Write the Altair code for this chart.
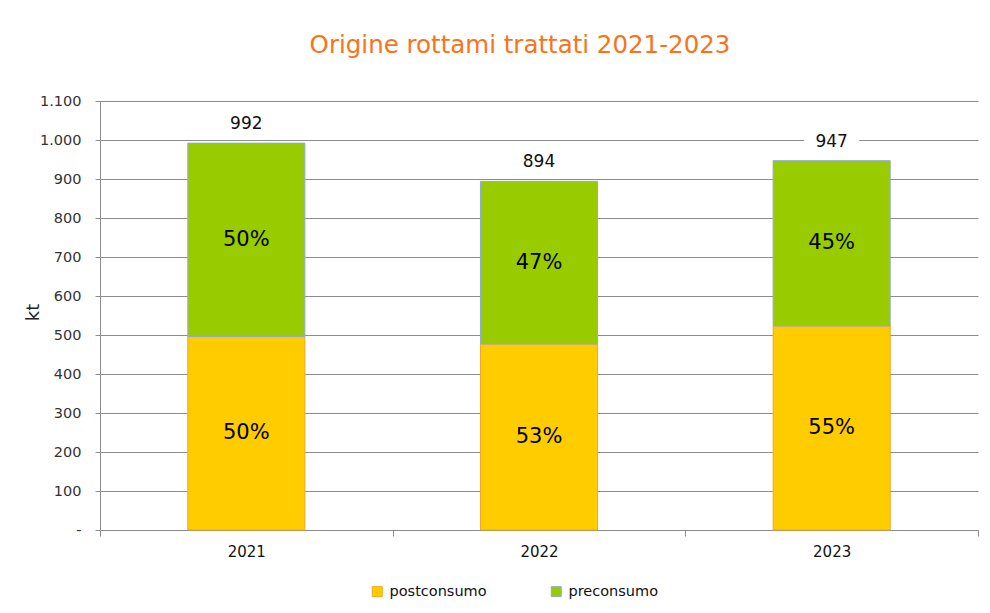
import altair as alt
import pandas as pd

years = ["2021", "2022", "2023"]
series = ["postconsumo", "preconsumo"]
postconsumo = [496, 477, 523]
preconsumo = [496, 417, 424]
totals = [992, 894, 947]
y_ticks = [0, 100, 200, 300, 400, 500, 600, 700, 800, 900, 1000, 1100]

fill_colors = ["#FFCC00", "#99CC00"]
stroke_colors = ["#F5A623", "#8FAAD6"]
grid_color = "#8C8C8C"

rows = []
for i, yr in enumerate(years):
    base = 0
    for k, (name, vals) in enumerate(zip(series, [postconsumo, preconsumo])):
        v = vals[i]
        rows.append({
            "anno": yr, "serie": name, "valore": v, "ordine": k,
            "mid": base + v / 2,
            "pct": f"{round(v / totals[i] * 100)}%",
        })
        base += v
df = pd.DataFrame(rows)
tot_df = pd.DataFrame({"anno": years, "totale": totals})

xscale = alt.Scale(domain=years, paddingInner=0, paddingOuter=0)
yscale = alt.Scale(domain=[0, 1100], nice=False)

x_axis = alt.Axis(
    title=None, labelAngle=0, tickBand="extent", ticks=True, tickSize=6,
    tickColor=grid_color, domainColor=grid_color, labelFontSize=15,
    labelColor="#111111", labelPadding=8, grid=False,
)
y_axis = alt.Axis(
    values=y_ticks, title="kt", grid=True, gridColor=grid_color,
    tickSize=5, tickColor=grid_color, domainColor=grid_color,
    labelFontSize=14.5, labelColor="#333333", labelPadding=14,
    labelExpr="datum.value == 0 ? '-' : replace(format(datum.value, ','), ',', '.')",
    titleFontSize=18, titleFontWeight="normal", titleColor="#222222",
    titleX=-67, titleY=211, titleAlign="center", titleBaseline="middle",
    titleAngle=270,
)


def xenc():
    return alt.X("anno:N", scale=xscale, axis=x_axis, title=None)


bars = alt.Chart(df).mark_bar(strokeWidth=1, width=alt.RelativeBandSize(0.4)).encode(
    x=xenc(),
    y=alt.Y("valore:Q", stack="zero", scale=yscale, axis=y_axis, title="kt"),
    fill=alt.Fill("serie:N", scale=alt.Scale(domain=series, range=fill_colors),
                  legend=alt.Legend(title=None)),
    stroke=alt.Stroke("serie:N", scale=alt.Scale(domain=series, range=stroke_colors),
                      legend=alt.Legend(title=None)),
    order=alt.Order("ordine:Q"),
)

pct = alt.Chart(df).mark_text(fontSize=21, color="#000000", baseline="middle").encode(
    x=xenc(),
    y=alt.Y("mid:Q", scale=yscale, stack=None, axis=y_axis, title="kt"),
    text="pct:N",
)

bg = alt.Chart(tot_df).mark_point(
    shape="M-1,-0.3L1,-0.3L1,0.3L-1,0.3Z", size=3025, filled=True,
    fill="white", opacity=1, strokeWidth=0, yOffset=-19,
).encode(
    x=xenc(),
    y=alt.Y("totale:Q", scale=yscale, axis=y_axis, title="kt"),
)

tot = alt.Chart(tot_df).mark_text(fontSize=17, color="#111111", dy=-19, baseline="middle").encode(
    x=xenc(),
    y=alt.Y("totale:Q", scale=yscale, axis=y_axis, title="kt"),
    text=alt.Text("totale:Q", format="d"),
)

chart = alt.layer(bars, pct, bg, tot).properties(
    width=878,
    height=429,
    autosize="none",
    padding={"left": 92, "top": 93, "right": 4, "bottom": 74},
    title=alt.Title(
        "Origine rottami trattati 2021-2023", fontSize=24.5, color="#FA7319",
        fontWeight="normal", anchor="middle", dx=-19, offset=35,
    ),
).configure(font="DejaVu Sans").configure_view(stroke=None).configure_legend(
    orient="none", legendX=270, legendY=483, direction="horizontal",
    columnPadding=62, symbolType="square", symbolSize=100, symbolStrokeWidth=1,
    labelFontSize=14.5, labelOffset=5, labelColor="#111111",
)

chart.save("out.html", embed_options={"renderer": "svg", "actions": False})
